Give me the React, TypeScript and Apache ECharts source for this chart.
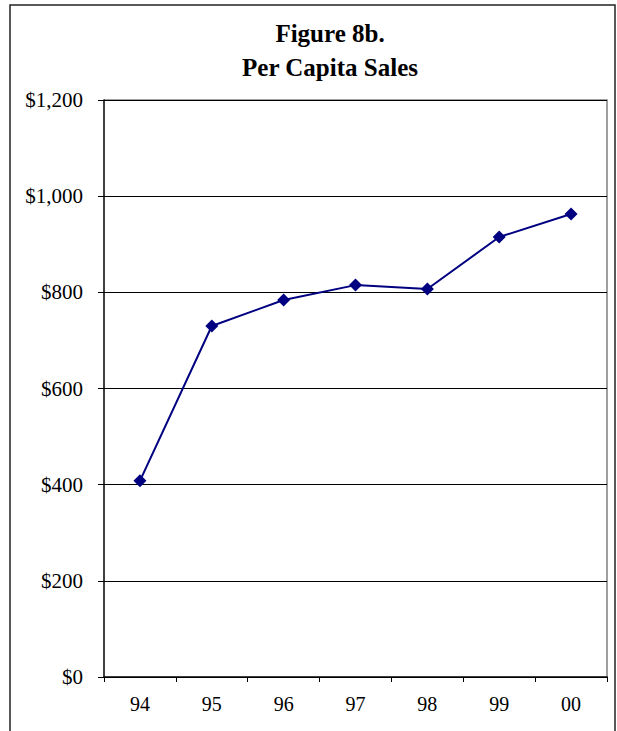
import React, { useEffect, useRef } from "react";
import * as echarts from "echarts";

const categories = ["94", "95", "96", "97", "98", "99", "00"];
const perCapitaSales = [408, 730, 784, 815, 807, 915, 963];
const titleLines = ["Figure 8b.", "Per Capita Sales"];

export default function App() {
  const ref = useRef<HTMLDivElement>(null);
  useEffect(() => {
    document.body.style.margin = "0";
    const chart = echarts.init(ref.current!, null, { renderer: "svg" });
    const font = "'Liberation Serif', 'Times New Roman', serif";
    chart.setOption({
      animation: false,
      backgroundColor: "#ffffff",
      graphic: [
        {
          type: "rect",
          shape: { x: 10, y: 5, width: 605, height: 760 },
          style: { fill: "none", stroke: "#222", lineWidth: 1.5 },
          silent: true,
        },
        {
          type: "text",
          x: 330,
          y: 33,
          style: {
            text: titleLines[0],
            font: `bold 25px ${font}`,
            fill: "#000",
            align: "center",
            verticalAlign: "middle",
          },
        },
        {
          type: "text",
          x: 330,
          y: 67,
          style: {
            text: titleLines[1],
            font: `bold 25px ${font}`,
            fill: "#000",
            align: "center",
            verticalAlign: "middle",
          },
        },
        {
          type: "polyline",
          shape: { points: [[104, 100], [607, 100], [607, 677]] },
          style: { stroke: "#808080", lineWidth: 1.5, fill: "none" },
          z: 0,
        },
      ],
      grid: { left: 104, top: 100, width: 503, height: 577, containLabel: false },
      xAxis: {
        type: "category",
        data: categories,
        boundaryGap: true,
        axisLine: { lineStyle: { color: "#000", width: 1.5 } },
        axisTick: { show: true, length: 5, lineStyle: { color: "#000" }, alignWithLabel: false },
        axisLabel: { fontFamily: font, fontSize: 20, color: "#000", margin: 17 },
        splitLine: { show: false },
      },
      yAxis: {
        type: "value",
        min: 0,
        max: 1200,
        interval: 200,
        axisLine: { show: true, lineStyle: { color: "#000", width: 1.5 } },
        axisTick: { show: true, length: 6, lineStyle: { color: "#000" } },
        axisLabel: {
          fontFamily: font,
          fontSize: 21,
          color: "#000",
          margin: 21,
          formatter: (v: number) => "$" + v.toLocaleString("en-US"),
        },
        splitLine: { show: true, lineStyle: { color: "#000", width: 1 } },
      },
      series: [
        {
          type: "line",
          data: perCapitaSales,
          symbol: "diamond",
          symbolSize: 13,
          lineStyle: { color: "#000080", width: 2 },
          itemStyle: { color: "#000080" },
        },
      ],
    });
    return () => chart.dispose();
  }, []);
  return <div ref={ref} style={{ width: 617, height: 731 }} />;
}
